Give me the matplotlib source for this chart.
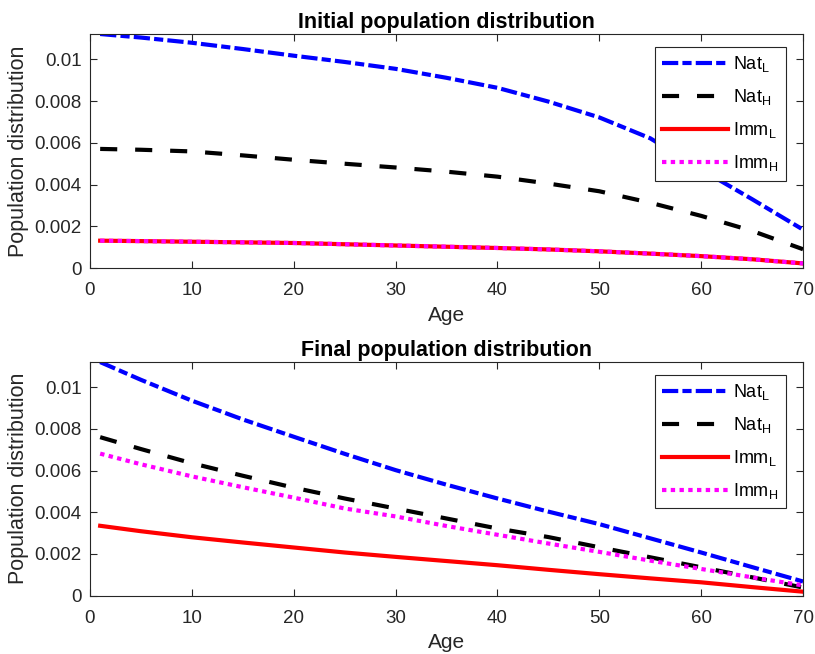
import numpy as np
import matplotlib
matplotlib.use("Agg")
import matplotlib.pyplot as plt

plt.rcParams['font.family'] = ['Liberation Sans', 'DejaVu Sans']
plt.rcParams['mathtext.default'] = 'regular'

age = [1, 5, 10, 15, 20, 25, 30, 35, 40, 45, 50, 55, 60, 65, 70]

# initial distribution
init_nat_l = [0.01122, 0.01105, 0.01080, 0.01050, 0.01018, 0.00988, 0.00955, 0.00912,
              0.00864, 0.00798, 0.00722, 0.00622, 0.00472, 0.00330, 0.00184]
init_nat_h = [0.00571, 0.00567, 0.00559, 0.00540, 0.00519, 0.00500, 0.00482, 0.00462,
              0.00438, 0.00405, 0.00368, 0.00313, 0.00250, 0.00178, 0.00090]
init_imm_l = [0.00131, 0.00129, 0.00126, 0.00123, 0.00120, 0.00114, 0.00108, 0.00102,
              0.00096, 0.00089, 0.00080, 0.00069, 0.00057, 0.00042, 0.00022]
init_imm_h = init_imm_l

# final distribution
fin_nat_l = [0.01120, 0.01035, 0.00935, 0.00845, 0.00762, 0.00680, 0.00602, 0.00532,
             0.00466, 0.00403, 0.00343, 0.00275, 0.00207, 0.00137, 0.00068]
fin_nat_h = [0.00760, 0.00703, 0.00635, 0.00575, 0.00518, 0.00466, 0.00418, 0.00370,
             0.00322, 0.00281, 0.00232, 0.00184, 0.00136, 0.00088, 0.00039]
fin_imm_l = [0.00335, 0.00309, 0.00280, 0.00255, 0.00231, 0.00207, 0.00186, 0.00166,
             0.00146, 0.00124, 0.00103, 0.00083, 0.00064, 0.00041, 0.00019]
fin_imm_h = [0.00681, 0.00630, 0.00572, 0.00520, 0.00470, 0.00418, 0.00380, 0.00334,
             0.00292, 0.00250, 0.00210, 0.00168, 0.00128, 0.00088, 0.00049]

labels = ['Nat$_L$', 'Nat$_H$', 'Imm$_L$', 'Imm$_H$']
titles = ['Initial population distribution', 'Final population distribution']

fig = plt.figure(figsize=(8.15, 6.54), dpi=100)
ax1 = fig.add_axes([0.1104, 0.5902, 0.8749, 0.3578])
ax2 = fig.add_axes([0.1104, 0.0892, 0.8749, 0.3578])

for ax, title, series in [(ax1, titles[0], [init_nat_l, init_nat_h, init_imm_l, init_imm_h]),
                          (ax2, titles[1], [fin_nat_l, fin_nat_h, fin_imm_l, fin_imm_h])]:
    ax.plot(age, series[0], color='#0000ff', lw=3, ls=(0, (3.9, 1, 2.2, 1)), label=labels[0])
    ax.plot(age, series[1], color='black', lw=3, ls=(0, (4.1, 4.3)), label=labels[1])
    ax.plot(age, series[2], color='#ff0000', lw=3, ls='-', label=labels[2])
    ax.plot(age, series[3], color='#ff00ff', lw=3, ls=(0, (1.05, 1.05)), label=labels[3])
    ax.set_xlim(0, 70)
    ax.set_ylim(0, 0.01122)
    ax.set_xticks(range(0, 71, 10))
    ax.set_yticks([0, 0.002, 0.004, 0.006, 0.008, 0.01])
    ax.set_yticklabels(['0', '0.002', '0.004', '0.006', '0.008', '0.01'])
    ax.tick_params(direction='in', top=True, right=True, labelsize=13.5, colors='#262626',
                   length=5, width=0.8)
    ax.tick_params(axis='x', pad=10)
    ax.tick_params(axis='y', pad=6)
    for s in ax.spines.values():
        s.set_color('#262626')
        s.set_linewidth(0.8)
    ax.set_xlabel('Age', fontsize=15, color='#262626', labelpad=5)
    ax.set_ylabel('Population distribution', fontsize=15.5, color='#262626', labelpad=4)
    ax.set_title(title, fontsize=15.5, fontweight='bold', pad=4)
    leg = ax.legend(loc='upper right', bbox_to_anchor=(0.9757, 0.944), fontsize=13,
                    fancybox=False, framealpha=1, edgecolor='#262626', handlelength=3.65,
                    borderpad=0.4, labelspacing=0.72, handletextpad=0.3, borderaxespad=0)
    leg.get_frame().set_linewidth(0.8)

fig.savefig('out.png', dpi=100)
